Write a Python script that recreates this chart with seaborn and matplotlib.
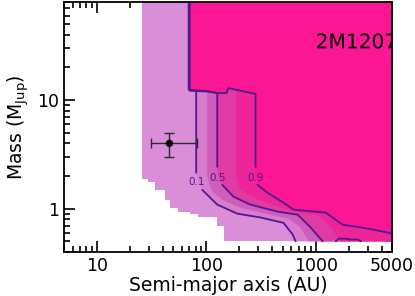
import matplotlib
matplotlib.use('Agg')
import matplotlib.pyplot as plt
import matplotlib.transforms as mtransforms
from matplotlib.textpath import TextPath
from matplotlib.patches import PathPatch
from matplotlib.font_manager import FontProperties
import seaborn as sns

# detection probability map for 2M1207
# semi-major axis in AU, mass in M_Jup
XMAX = 5000
YMAX = 80

# lower edge of the area that was covered at all (step edge)
plum_x = [25.9, 29.4, 34.0, 42.1, 46.7, 55.3, 71.3, 84.5, 97.9, 126, 146]
plum_y = [1.88, 1.77, 1.49, 1.21, 1.02, 0.93, 0.90, 0.845, 0.83, 0.70, 0.50]

# probability contours (top of the plot down to the bottom/right edge)
c01_x = [69.0, 69.0, 80.9, 80.9, 84.5, 91.9, 126, 192, 313, 508, 615, 656]
c01_y = [80, 12.6, 12.2, 2.14, 1.77, 1.49, 1.09, 0.90, 0.83, 0.74, 0.58, 0.50]
c03_x = [69.4, 69.4, 102, 102, 107, 116, 140, 205, 347, 565, 728, 863]
c03_y = [80, 12.5, 12.1, 2.05, 1.66, 1.40, 1.21, 1.02, 0.90, 0.81, 0.67, 0.50]
c05_x = [69.8, 69.8, 102, 126, 126, 129, 140, 177, 253, 448, 684, 900, 1159]
c05_y = [80, 12.4, 12.1, 11.6, 2.43, 1.92, 1.66, 1.29, 1.09, 0.94, 0.88, 0.67, 0.50]
c07_x = [70.2, 70.2, 102, 129, 153, 159, 188, 188, 205, 300, 477, 728, 1066, 1315, 1695]
c07_y = [80, 12.3, 12.1, 11.6, 11.6, 12.9, 12.3, 1.92, 1.49, 1.21, 1.02, 0.92, 0.86, 0.71, 0.50]
c09_x = [70.6, 70.6, 102, 129, 153, 159, 282, 282, 287, 294, 363, 508, 628, 1236, 1525, 1770, 2427, 3404, 5000]
c09_y = [80, 12.2, 12.0, 11.6, 11.6, 12.9, 11.4, 2.43, 1.92, 1.66, 1.40, 1.135, 0.98, 0.92, 0.79, 0.71, 0.68, 0.64, 0.59]
# small closed 0.9 island near the bottom
isl_x = [1525, 1626, 1884, 2094, 2427, 2588]
isl_y = [0.50, 0.53, 0.53, 0.52, 0.52, 0.50]

# index of the point that sits under the inline label
lab_idx = {'0.1': 4, '0.5': 5, '0.9': 8}
lab_pos = {'0.1': (80.9, 1.76), '0.5': (126, 1.93), '0.9': (282, 1.93)}

# 2M1207 b
planet_a = 46
planet_a_err = [[15], [37]]
planet_m = 4.0
planet_m_err = 1.0

fill_colors = ['#db8ed8', '#d87ccd', '#d05cbc', '#e03aa5', '#ee2599', '#fb1793']
line_color = '#52188c'


def region(ax, xs, ys, color):
  px = list(xs) + [XMAX, XMAX]
  py = list(ys) + [ys[-1], YMAX]
  ax.fill(px, py, color=color, lw=0, zorder=1)


def step_path(xs, ys):
  px = [xs[0]]
  py = [YMAX]
  for i in range(len(xs)):
    if i > 0:
      px.append(xs[i])
      py.append(ys[i - 1])
    px.append(xs[i])
    py.append(ys[i])
  return px, py


sns.set_style('ticks')
plt.rcParams['font.family'] = ['DejaVu Sans']
for k in ['text.color', 'axes.labelcolor', 'xtick.color', 'ytick.color', 'axes.edgecolor']:
  plt.rcParams[k] = 'k'

fig = plt.figure(figsize=(4.15, 2.96), dpi=100)
ax = fig.add_axes([0.154, 0.149, 0.791, 0.844])
ax.set_xscale('log')
ax.set_yscale('log')
ax.set_xlim(5, XMAX)
ax.set_ylim(0.4, YMAX)

sx, sy = step_path(plum_x, plum_y)
region(ax, sx, sy, fill_colors[0])
for (xs, ys), col in zip([(c01_x, c01_y), (c03_x, c03_y), (c05_x, c05_y),
                          (c07_x, c07_y), (c09_x, c09_y)], fill_colors[1:]):
  region(ax, xs, ys, col)

for name, xs, ys in [('0.1', c01_x, c01_y), ('0.5', c05_x, c05_y), ('0.9', c09_x, c09_y)]:
  k = lab_idx[name]
  for seg in (slice(0, k), slice(k + 1, None)):
    sns.lineplot(x=xs[seg], y=ys[seg], sort=False, estimator=None,
                 color=line_color, lw=1.3, ax=ax, zorder=3)
  tx, ty = lab_pos[name]
  ax.text(tx, ty, name, color=line_color, fontsize=7.5, ha='center', va='center', zorder=4)
sns.lineplot(x=isl_x, y=isl_y, sort=False, estimator=None, color=line_color, lw=1.3, ax=ax, zorder=3)

ax.errorbar([planet_a], [planet_m], xerr=planet_a_err, yerr=planet_m_err, fmt='none',
            ecolor='#2b2b2b', elinewidth=1.0, capsize=3.5, capthick=1.0, zorder=5)
sns.scatterplot(x=[planet_a], y=[planet_m], color='k', s=28, edgecolor='none', ax=ax, zorder=6)

# target name, drawn as a path so that it is cut at the right spine like the original
tp = TextPath((0, 0), '2M1207', size=14.5, prop=FontProperties(family='DejaVu Sans'))
trans = mtransforms.Affine2D().scale(fig.dpi / 72.0) + \
  mtransforms.ScaledTranslation(1000, 30, ax.transData)
ax.add_patch(PathPatch(tp, transform=trans, facecolor='k', lw=0, zorder=6))

ax.set_xticks([10, 100, 1000, 5000])
ax.set_xticklabels(['10', '100', '1000', '5000'])
ax.set_yticks([1, 10])
ax.set_yticklabels(['1', '10'])
ax.set_xlim(5, XMAX)
ax.set_ylim(0.4, YMAX)
ax.tick_params(which='both', direction='in', top=True, right=True, width=1.2,
               labelsize=12.5, colors='k')
ax.tick_params(which='major', length=8)
ax.tick_params(which='minor', length=4.5)
for sp in ax.spines.values():
  sp.set_linewidth(1.3)
  sp.set_color('k')
  sp.set_zorder(10)

ax.set_xlabel('Semi-major axis (AU)', fontsize=13.5, labelpad=1, color='k')
ax.set_ylabel(r'Mass (M$_{\rm Jup}$)', fontsize=13.5, labelpad=4, color='k')

fig.savefig('out.png', dpi=100)
